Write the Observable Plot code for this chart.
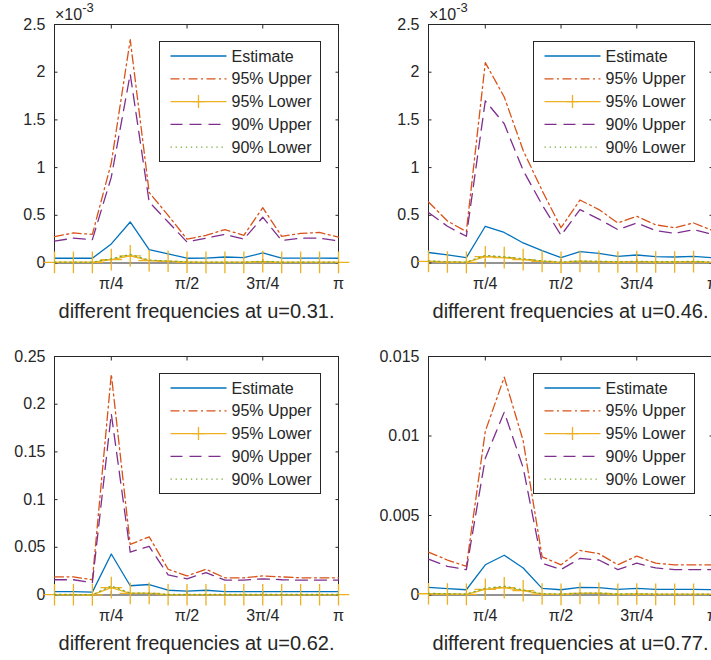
<!DOCTYPE html>
<html>
<head>
<meta charset="utf-8">
<script src="https://cdn.jsdelivr.net/npm/d3@7"></script>
<script src="https://cdn.jsdelivr.net/npm/@observablehq/plot@0.6"></script>
<style>
  html, body { margin: 0; padding: 0; background: #fff; overflow: hidden; }
  #fig { position: relative; width: 711px; height: 660px; overflow: hidden; background: #fff;
         font-family: "Liberation Sans", Arial, sans-serif; }
  .panel { position: absolute; width: 356px; height: 330px; }
  .panel svg { max-width: none !important; }
</style>
</head>
<body>
<div id="fig"></div>
<script>
const PI = Math.PI;
// frequencies are k·π/16
const freqMultiple = [1, 2, 3, 4, 5, 6, 7, 8, 9, 10, 11, 12, 13, 14, 15, 16];
const xTickValues = [PI / 4, PI / 2, 3 * PI / 4, PI];
const xTickLabels = ["π/4", "π/2", "3π/4", "π"];

const seriesNames = ["Estimate", "95% Upper", "95% Lower", "90% Upper", "90% Lower"];
const seriesColors = ["#0072BD", "#D95319", "#EDB120", "#7E2F8E", "#77AC30"];
const seriesDash = [null, "9,3.5,2,3.5", null, "12,7", "1.3,3.8"];

// Panel 1: u = 0.31 (values in units of 10^-3)
const est1   = [0.05, 0.05, 0.05, 0.20, 0.43, 0.14, 0.095, 0.05, 0.052, 0.063, 0.056, 0.105, 0.052, 0.052, 0.052, 0.05];
const up95_1 = [0.276, 0.315, 0.30, 1.05, 2.34, 0.74, 0.50, 0.25, 0.29, 0.35, 0.29, 0.58, 0.28, 0.31, 0.32, 0.27];
const lo95_1 = [0.007, 0.007, 0.007, 0.035, 0.075, 0.025, 0.018, 0.008, 0.007, 0.007, 0.007, 0.014, 0.007, 0.007, 0.007, 0.007];
const up90_1 = [0.23, 0.26, 0.245, 0.90, 1.98, 0.64, 0.43, 0.22, 0.26, 0.30, 0.25, 0.48, 0.235, 0.26, 0.26, 0.23];
const lo90_1 = [0.009, 0.009, 0.009, 0.045, 0.09, 0.03, 0.022, 0.01, 0.009, 0.009, 0.009, 0.018, 0.009, 0.009, 0.009, 0.009];

// Panel 2: u = 0.46 (values in units of 10^-3)
const est2   = [0.11, 0.085, 0.056, 0.385, 0.32, 0.21, 0.13, 0.056, 0.12, 0.10, 0.07, 0.084, 0.066, 0.063, 0.07, 0.056];
const up95_2 = [0.64, 0.44, 0.33, 2.10, 1.74, 1.18, 0.76, 0.37, 0.66, 0.56, 0.42, 0.49, 0.40, 0.37, 0.42, 0.34];
const lo95_2 = [0.017, 0.01, 0.007, 0.066, 0.056, 0.035, 0.017, 0.007, 0.017, 0.014, 0.01, 0.014, 0.01, 0.01, 0.014, 0.007];
const up90_2 = [0.53, 0.385, 0.28, 1.70, 1.46, 0.97, 0.61, 0.29, 0.56, 0.46, 0.35, 0.42, 0.34, 0.31, 0.35, 0.30];
const lo90_2 = [0.022, 0.013, 0.009, 0.08, 0.065, 0.045, 0.022, 0.009, 0.022, 0.018, 0.013, 0.018, 0.013, 0.013, 0.018, 0.009];

// Panel 3: u = 0.62
const est3   = [0.0035, 0.0035, 0.003, 0.043, 0.0097, 0.011, 0.005, 0.004, 0.005, 0.0035, 0.0035, 0.0035, 0.0035, 0.0035, 0.0035, 0.0035];
const up95_3 = [0.019, 0.019, 0.016, 0.2315, 0.053, 0.061, 0.027, 0.020, 0.027, 0.018, 0.018, 0.020, 0.019, 0.018, 0.018, 0.018];
const lo95_3 = [0.0003, 0.0003, 0.0001, 0.0077, 0.0017, 0.0017, 0.0003, 0.0003, 0.0003, 0.0003, 0.0003, 0.0003, 0.0003, 0.0003, 0.0003, 0.0003];
const up90_3 = [0.016, 0.016, 0.013, 0.19, 0.045, 0.051, 0.021, 0.017, 0.0235, 0.0155, 0.0155, 0.017, 0.016, 0.0155, 0.0155, 0.0155];
const lo90_3 = [0.0005, 0.0005, 0.0002, 0.0095, 0.002, 0.002, 0.0005, 0.0005, 0.0005, 0.0005, 0.0005, 0.0005, 0.0005, 0.0005, 0.0005, 0.0005];

// Panel 4: u = 0.77
const est4   = [0.00048, 0.0004, 0.00033, 0.0019, 0.0025, 0.0017, 0.00042, 0.00033, 0.00048, 0.00046, 0.00036, 0.00042, 0.00036, 0.00036, 0.00036, 0.00033];
const up95_4 = [0.0027, 0.0022, 0.0018, 0.0103, 0.0137, 0.0097, 0.0024, 0.0019, 0.0028, 0.0026, 0.0019, 0.00245, 0.002, 0.0019, 0.0019, 0.0019];
const lo95_4 = [0.00008, 0.00006, 0.00004, 0.00036, 0.00046, 0.00027, 0.00006, 0.00004, 0.0001, 0.0001, 0.00004, 0.00006, 0.00004, 0.00004, 0.00004, 0.00004];
const up90_4 = [0.00226, 0.0018, 0.0016, 0.0086, 0.0115, 0.008, 0.002, 0.0016, 0.0023, 0.0022, 0.0016, 0.002, 0.0017, 0.0016, 0.0016, 0.0016];
const lo90_4 = [0.0001, 0.00008, 0.00006, 0.00042, 0.00055, 0.00032, 0.00008, 0.00006, 0.00012, 0.00012, 0.00006, 0.00008, 0.00006, 0.00006, 0.00006, 0.00006];

const yTicks12 = [0, 0.5, 1, 1.5, 2, 2.5];
const yTickLabels12 = ["0", "0.5", "1", "1.5", "2", "2.5"];
const yTicks3 = [0, 0.05, 0.1, 0.15, 0.2, 0.25];
const yTickLabels3 = ["0", "0.05", "0.1", "0.15", "0.2", "0.25"];
const yTicks4 = [0, 0.005, 0.01, 0.015];
const yTickLabels4 = ["0", "0.005", "0.01", "0.015"];

const captions = ["different frequencies at u=0.31.", "different frequencies at u=0.46.",
                  "different frequencies at u=0.62.", "different frequencies at u=0.77."];

const INK = "#262626";
const FONT = "'Liberation Sans', Arial, Helvetica, sans-serif";
const W = 356, H = 330, ML = 54, MR = 18, MT = 24, MB = 67.5;

function makePanel({left, top, series, yMax, yTicks, yTickLabels, exponent, caption}) {
  const rows = series.map(vals => freqMultiple.map((k, i) => ({x: k * PI / 16, y: vals[i]})));
  const fmtY = d => yTickLabels[yTicks.indexOf(d)];
  const fmtX = d => xTickLabels[xTickValues.indexOf(d)];
  const marks = [
    Plot.frame({stroke: INK, strokeWidth: 1}),
    Plot.axisY({anchor: "left", ticks: yTicks, tickSize: -3.5, tickPadding: 12.5, tickFormat: fmtY,
                fontSize: 16, color: INK, label: null}),
    Plot.axisY({anchor: "right", ticks: yTicks, tickSize: -3.5, tickFormat: () => "", color: INK, label: null}),
    Plot.axisX({anchor: "bottom", ticks: xTickValues, tickSize: -3.5, tickPadding: 18, tickFormat: fmtX,
                fontSize: 16, color: INK, label: null}),
    Plot.axisX({anchor: "top", ticks: xTickValues, tickSize: -3.5, tickFormat: () => "", color: INK, label: null})
  ];
  rows.forEach((r, s) => {
    marks.push(Plot.line(r, {x: "x", y: "y", stroke: seriesColors[s], strokeWidth: 1.3,
      strokeDasharray: seriesDash[s] || undefined}));
    if (s === 2) {
      marks.push(Plot.dot(r, {x: "x", y: "y", symbol: "plus", r: 7, stroke: seriesColors[s], strokeWidth: 1.3}));
    }
  });
  marks.push(Plot.text([caption], {text: d => d, frameAnchor: "bottom", dy: 54.5, lineAnchor: "bottom",
    fontSize: 20, fill: INK}));

  const svgEl = Plot.plot({
    width: W, height: H,
    marginLeft: ML, marginRight: MR, marginTop: MT, marginBottom: MB,
    style: {fontFamily: FONT, fontSize: "16px", background: "transparent", overflow: "visible", maxWidth: "none"},
    x: {type: "linear", domain: [PI / 16, PI]},
    y: {type: "linear", domain: [0, yMax]},
    marks
  });

  const svg = d3.select(svgEl);
  // legend
  const bx = ML + 105.5, by = MT + 17.5, bw = 161, bh = 120;
  const g = svg.append("g").attr("font-family", FONT).attr("font-size", 16).attr("text-anchor", "start");
  g.append("rect").attr("x", bx).attr("y", by).attr("width", bw).attr("height", bh)
    .attr("fill", "#fff").attr("stroke", INK).attr("stroke-width", 1);
  seriesNames.forEach((name, i) => {
    const yy = by + 14.5 + 22.8 * i;
    g.append("line").attr("x1", bx + 11).attr("x2", bx + 67).attr("y1", yy).attr("y2", yy)
      .attr("stroke", seriesColors[i]).attr("stroke-width", 1.3)
      .attr("stroke-dasharray", seriesDash[i]);
    if (i === 2) {
      g.append("path").attr("d", `M${bx + 33},${yy}h12M${bx + 39},${yy - 6.5}v13`)
        .attr("stroke", seriesColors[i]).attr("stroke-width", 1.3).attr("fill", "none");
    }
    g.append("text").attr("x", bx + 72).attr("y", yy).attr("dy", "0.35em").attr("fill", INK)
      .attr("text-anchor", "start").text(name);
  });
  if (exponent) {
    const t = svg.append("text").attr("x", ML + 1).attr("y", MT - 4).attr("fill", INK)
      .attr("text-anchor", "start").attr("font-family", FONT).attr("font-size", 16);
    t.append("tspan").text("×10");
    t.append("tspan").attr("font-size", 13).attr("dy", -8).text(exponent);
  }

  const div = document.createElement("div");
  div.className = "panel";
  div.style.left = left + "px";
  div.style.top = top + "px";
  div.appendChild(svgEl);
  document.getElementById("fig").appendChild(div);
}

makePanel({left: 0, top: 0, series: [est1, up95_1, lo95_1, up90_1, lo90_1], yMax: 2.5,
  yTicks: yTicks12, yTickLabels: yTickLabels12, exponent: "-3", caption: captions[0]});
makePanel({left: 374, top: 0, series: [est2, up95_2, lo95_2, up90_2, lo90_2], yMax: 2.5,
  yTicks: yTicks12, yTickLabels: yTickLabels12, exponent: "-3", caption: captions[1]});
makePanel({left: 0, top: 332, series: [est3, up95_3, lo95_3, up90_3, lo90_3], yMax: 0.25,
  yTicks: yTicks3, yTickLabels: yTickLabels3, exponent: null, caption: captions[2]});
makePanel({left: 374, top: 332, series: [est4, up95_4, lo95_4, up90_4, lo90_4], yMax: 0.015,
  yTicks: yTicks4, yTickLabels: yTickLabels4, exponent: null, caption: captions[3]});
</script>
</body>
</html>
